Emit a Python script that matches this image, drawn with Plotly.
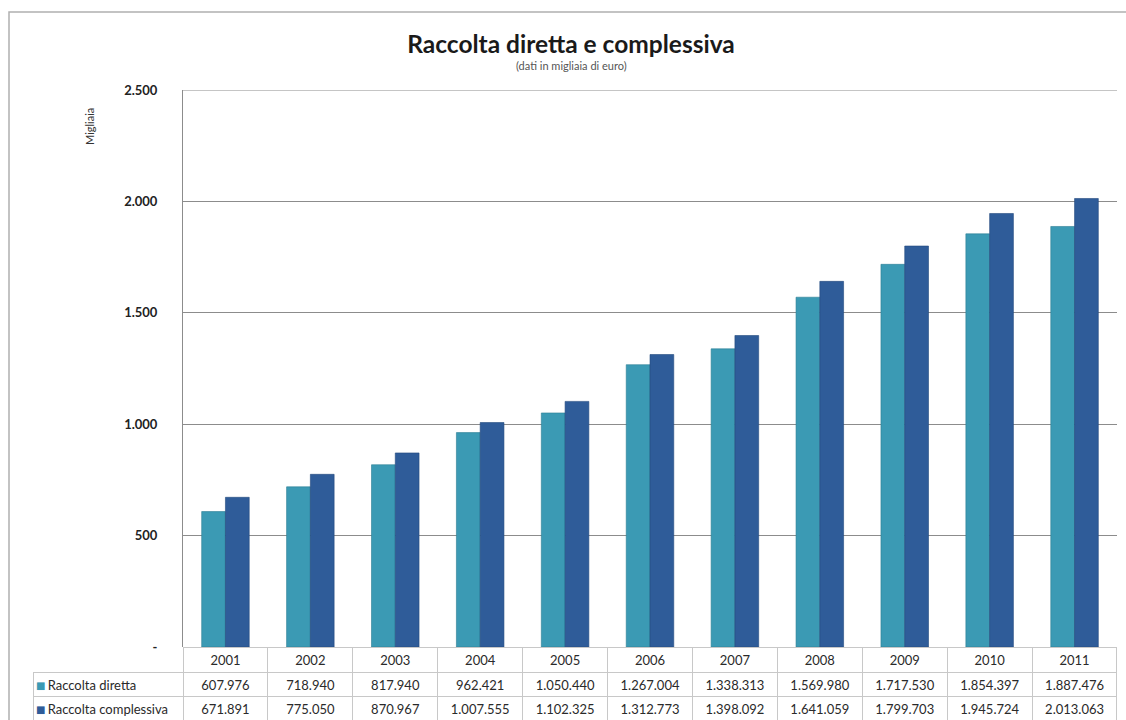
import plotly.graph_objects as go

years = ["2001", "2002", "2003", "2004", "2005", "2006", "2007", "2008", "2009", "2010", "2011"]
raccolta_diretta = [607976, 718940, 817940, 962421, 1050440, 1267004, 1338313, 1569980, 1717530, 1854397, 1887476]
raccolta_complessiva = [671891, 775050, 870967, 1007555, 1102325, 1312773, 1398092, 1641059, 1799703, 1945724, 2013063]
series_names = ["Raccolta diretta", "Raccolta complessiva"]
tick_values = [0, 500, 1000, 1500, 2000, 2500]
tick_labels = ["-", "500", "1.000", "1.500", "2.000", "2.500"]

C_DIR = "#3b9ab4"
C_COM = "#2f5c99"
FONT = "Lato"
GRID = "#8c8c8c"

W, H = 1126, 720
ML, MR, MT, MB = 33, 9, 90, 0
plot_left, plot_bottom = 183, 647
pw = W - ML - MR
ph = H - MT - MB
x0 = (plot_left - ML) / pw
y0 = (H - MB - plot_bottom) / ph


def fmt(v):
    return f"{v:,}".replace(",", ".")


def px_x(p):
    return (p - ML) / pw


def px_y(p):
    return (H - MB - p) / ph


fig = go.Figure()
fig.add_trace(go.Bar(x=years, y=[v / 1000 for v in raccolta_diretta], name=series_names[0],
                     marker=dict(color=C_DIR, line=dict(color="#2b7d93", width=0.6))))
fig.add_trace(go.Bar(x=years, y=[v / 1000 for v in raccolta_complessiva], name=series_names[1],
                     marker=dict(color=C_COM, line=dict(color="#244a7d", width=0.6))))

first_col = ["\u00a0\u00a0" + n for n in series_names]
cols = [first_col] + [[fmt(d), fmt(c)] for d, c in zip(raccolta_diretta, raccolta_complessiva)]
colw = [plot_left - ML] + [(W - MR - plot_left) / len(years)] * len(years)

fig.add_trace(go.Table(
    domain=dict(x=[0, 1], y=[0, y0]),
    columnwidth=colw,
    header=dict(values=[""] + years, height=25,
                align="center",
                line=dict(color=["rgba(0,0,0,0)"] + ["#c8c8c8"] * len(years), width=1),
                fill=dict(color=["rgba(0,0,0,0)"] + ["white"] * len(years)),
                font=dict(family=FONT, size=13, color="#2a2a2a")),
    cells=dict(values=cols, height=24,
               align=["left"] + ["center"] * len(years),
               line=dict(color="#c8c8c8", width=1),
               fill=dict(color="white"),
               font=dict(family=FONT, size=13, color="#2a2a2a")),
))

annotations = [
    dict(text="(dati in migliaia di euro)", xref="paper", yref="paper",
         x=px_x(571), y=px_y(66), xanchor="center", yanchor="middle", showarrow=False,
         font=dict(family=FONT, size=11, color="#555555")),
    dict(text="Migliaia", xref="paper", yref="paper", textangle=-90,
         x=px_x(89), y=px_y(127), xanchor="center", yanchor="middle", showarrow=False,
         font=dict(family=FONT, size=11, color="#333333")),
]
for name, col, yy in zip(series_names, [C_DIR, C_COM], [685, 709]):
    annotations.append(dict(text="■", xref="paper", yref="paper", x=px_x(40), y=px_y(yy),
                            xanchor="center", yanchor="middle", borderpad=0,
                            showarrow=False, font=dict(family="DejaVu Sans", size=10, color=col)))

fig.update_layout(
    width=W, height=H,
    margin=dict(l=ML, r=MR, t=MT, b=MB, autoexpand=False),
    paper_bgcolor="white", plot_bgcolor="white",
    barmode="group", bargap=0.44, bargroupgap=0,
    showlegend=False,
    separators=",.",
    font=dict(family=FONT, color="#333333"),
    title=dict(text="<b>Raccolta diretta e complessiva</b>", x=571 / W, xanchor="center",
               y=1 - 44 / H, yanchor="middle",
               font=dict(family=FONT, size=24.5, color="#1a1a1a")),
    xaxis=dict(domain=[x0, 1], showticklabels=False, showline=False, showgrid=False,
               ticks="", zeroline=False, automargin=False),
    yaxis=dict(domain=[y0, 1], range=[0, 2500], tickvals=tick_values, ticktext=tick_labels,
               showgrid=True, gridcolor=GRID, gridwidth=1,
               showline=True, linecolor=GRID, linewidth=1,
               zeroline=False, ticks="", ticklabelstandoff=22, automargin=False,
               tickfont=dict(family=FONT, size=13, color="#222222", weight="bold")),
    annotations=annotations,
    shapes=[
        dict(type="rect", xref="paper", yref="paper",
             x0=px_x(9), x1=px_x(1135),
             y0=px_y(730), y1=px_y(12),
             line=dict(color="#b0b0b0", width=1.5), layer="below"),
        dict(type="line", xref="paper", yref="y", x0=x0, x1=1,
             y0=tick_values[-1], y1=tick_values[-1],
             line=dict(color=GRID, width=1), layer="below"),
    ],
)

fig.write_html("out.html", config={"displayModeBar": False},
               post_script="document.body.style.margin='0';document.body.style.overflow='hidden';")
